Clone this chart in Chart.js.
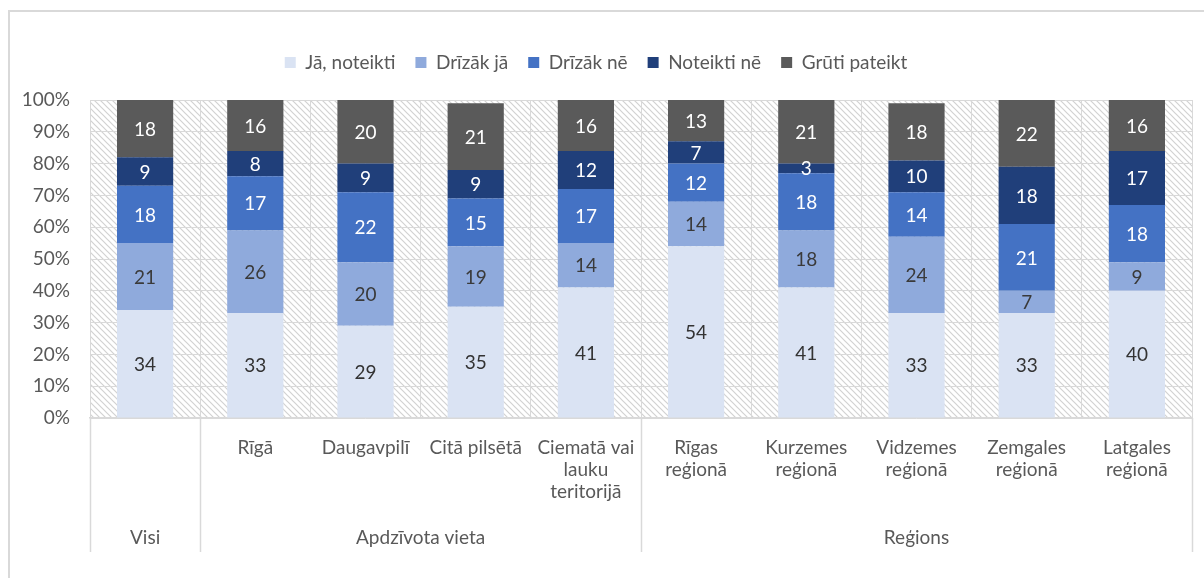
<!DOCTYPE html>
<html lang="lv">
<head>
<meta charset="utf-8">
<script src="https://cdn.jsdelivr.net/npm/chart.js@4.4.1/dist/chart.umd.min.js"></script>
<style>
  html, body { margin: 0; padding: 0; background: #fff; overflow: hidden; }
  #wrap { position: relative; width: 1204px; height: 578px; }
  #frame { position: absolute; left: 8px; top: 10px; width: 1220px; height: 600px; border: 2px solid #d9d9d9; box-sizing: border-box; }
  #myChart { position: absolute; left: 0; top: 0; }
</style>
</head>
<body>
<div id="wrap">
  <div id="frame"></div>
  <canvas id="myChart" width="1204" height="578"></canvas>
</div>
<script>
'use strict';

// kategorijas (apakšējā ass) un grupas
const categories = [
  [''],
  ['Rīgā'],
  ['Daugavpilī'],
  ['Citā pilsētā'],
  ['Ciematā vai', 'lauku', 'teritorijā'],
  ['Rīgas', 'reģionā'],
  ['Kurzemes', 'reģionā'],
  ['Vidzemes', 'reģionā'],
  ['Zemgales', 'reģionā'],
  ['Latgales', 'reģionā'],
];
const groupLabels = ['Visi', 'Apdzīvota vieta', 'Reģions'];
const groupSizes = [1, 4, 5];

// atbilžu sadalījums, %
const seriesNames = ['Jā, noteikti', 'Drīzāk jā', 'Drīzāk nē', 'Noteikti nē', 'Grūti pateikt'];
const jaNoteikti   = [34, 33, 29, 35, 41, 54, 41, 33, 33, 40];
const drizakJa     = [21, 26, 20, 19, 14, 14, 18, 24, 7, 9];
const drizakNe     = [18, 17, 22, 15, 17, 12, 18, 14, 21, 18];
const noteiktiNe   = [9, 8, 9, 9, 12, 7, 3, 10, 18, 17];
const grutiPateikt = [18, 16, 20, 21, 16, 13, 21, 18, 22, 16];

const yTicks = [0, 10, 20, 30, 40, 50, 60, 70, 80, 90, 100];

const colors = ['#dae3f3', '#8faadc', '#4472c4', '#203f7a', '#5a5a5a'];
const labelColors = ['#333333', '#3a3a3a', '#ffffff', '#ffffff', '#ffffff'];

const FONT = 'Lato, "Noto Sans", sans-serif';
const FS = 19;
const TEXT = '#595959';
const LINE = '#d9d9d9';

// svītrots fons zīmēšanas laukumam
function makeHatch() {
  const s = 6;
  const c = document.createElement('canvas');
  c.width = s; c.height = s;
  const g = c.getContext('2d');
  g.fillStyle = '#ffffff';
  g.fillRect(0, 0, s, s);
  g.strokeStyle = '#d2d2d2';
  g.lineWidth = 1.2;
  g.beginPath();
  g.moveTo(-1, -1); g.lineTo(s + 1, s + 1);
  g.moveTo(-1, s - 1); g.lineTo(1, s + 1);
  g.moveTo(s - 1, -1); g.lineTo(s + 1, 1);
  g.stroke();
  return g.createPattern(c, 'repeat');
}

const hatchBackground = {
  id: 'hatchBackground',
  beforeDraw(chart) {
    const { ctx, chartArea: a } = chart;
    ctx.save();
    ctx.fillStyle = makeHatch();
    ctx.fillRect(a.left, a.top, a.right - a.left, a.bottom - a.top);
    ctx.restore();
  }
};

// leģendai vairāk vietas zem tās
const legendGap = {
  id: 'legendGap',
  beforeInit(chart) {
    const fit = chart.legend.fit;
    chart.legend.fit = function () {
      fit.call(this);
      this.height += 18;
    };
  }
};

// vērtību etiķetes stabiņu vidū
const barLabels = {
  id: 'barLabels',
  afterDatasetsDraw(chart) {
    const ctx = chart.ctx;
    ctx.save();
    ctx.font = FS + 'px ' + FONT;
    ctx.textAlign = 'center';
    ctx.textBaseline = 'middle';
    chart.data.datasets.forEach((ds, i) => {
      const meta = chart.getDatasetMeta(i);
      meta.data.forEach((bar, j) => {
        const v = ds.data[j];
        if (!v) return;
        const p = bar.getProps(['x', 'y', 'base'], true);
        const top = Math.max(p.y, chart.chartArea.top);
        ctx.fillStyle = labelColors[i];
        ctx.fillText(String(v), p.x, (top + p.base) / 2 + 1);
      });
    });
    ctx.restore();
  }
};

// grupu atdalītāji un grupu nosaukumi zem ass
const groupAxis = {
  id: 'groupAxis',
  afterDraw(chart) {
    const { ctx, chartArea: a } = chart;
    const x = chart.scales.x;
    const step = (a.right - a.left) / categories.length;
    const lineBottom = 552;
    ctx.save();
    ctx.strokeStyle = LINE;
    ctx.lineWidth = 1.5;
    ctx.font = FS + 'px ' + FONT;
    ctx.fillStyle = TEXT;
    ctx.textAlign = 'center';
    ctx.textBaseline = 'middle';
    let idx = 0;
    const edges = [a.left];
    groupSizes.forEach((n, g) => {
      const left = x.getPixelForValue(idx) - step / 2;
      const right = x.getPixelForValue(idx + n - 1) + step / 2;
      edges.push(right);
      ctx.fillText(groupLabels[g], (left + right) / 2, 538);
      idx += n;
    });
    edges.forEach(e => {
      ctx.beginPath();
      ctx.moveTo(Math.round(e) + 0.5, a.bottom);
      ctx.lineTo(Math.round(e) + 0.5, lineBottom);
      ctx.stroke();
    });
    ctx.restore();
  }
};

const datasets = [jaNoteikti, drizakJa, drizakNe, noteiktiNe, grutiPateikt].map((d, i) => ({
  label: seriesNames[i],
  data: d,
  backgroundColor: colors[i],
  borderWidth: 0,
  categoryPercentage: 1,
  barPercentage: 0.51,
}));

const ctx = document.getElementById('myChart').getContext('2d');
new Chart(ctx, {
  type: 'bar',
  data: { labels: categories, datasets: datasets },
  options: {
    responsive: false,
    animation: false,
    events: [],
    layout: { padding: { top: 33, right: 12, left: 0, bottom: 0 } },
    scales: {
      x: {
        stacked: true,
        offset: true,
        grid: { color: LINE, lineWidth: 1, drawTicks: false, offset: true },
        border: { color: LINE, width: 1.5 },
        ticks: {
          color: TEXT,
          font: { family: FONT, size: FS, lineHeight: 1.16 },
          padding: 19,
          maxRotation: 0,
          autoSkip: false,
        },
        afterFit: s => { s.height = 160; },
      },
      y: {
        stacked: true,
        min: 0,
        max: 100,
        afterBuildTicks: s => { s.ticks = yTicks.map(v => ({ value: v })); },
        grid: { color: LINE, lineWidth: 1, drawTicks: false },
        border: { display: false },
        ticks: {
          color: TEXT,
          font: { family: FONT, size: FS },
          padding: 20,
          callback: v => v + '%',
        },
        afterFit: s => { s.width = 90; },
      }
    },
    plugins: {
      legend: {
        position: 'top',
        labels: {
          color: TEXT,
          font: { family: FONT, size: FS },
          boxWidth: 11,
          boxHeight: 11,
          padding: 20,
        }
      },
      tooltip: { enabled: false },
    }
  },
  plugins: [hatchBackground, legendGap, barLabels, groupAxis],
});
</script>
</body>
</html>
